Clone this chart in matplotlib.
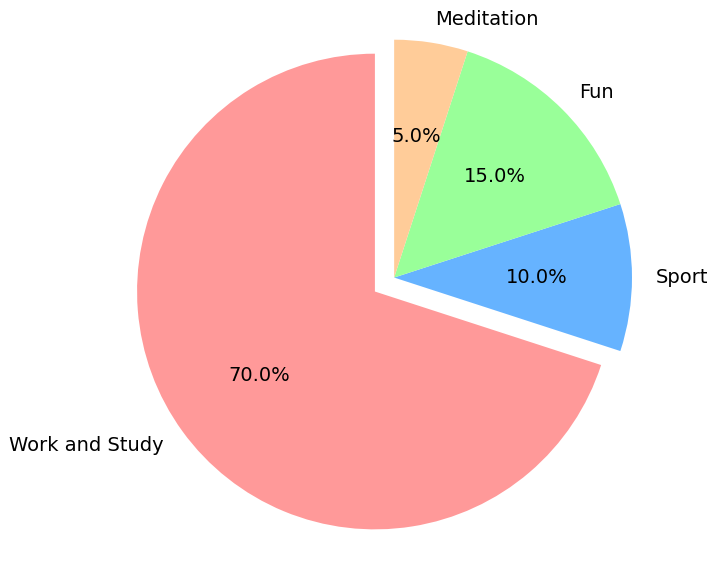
import matplotlib.pyplot as plt

labels = ['Work and Study', 'Sport', 'Fun', 'Meditation']
sizes = [70, 10, 15, 5]
colors = ['#ff9999', '#66b3ff', '#99ff99', '#ffcc99']
explode = (0.1, 0, 0, 0)

fig, ax = plt.subplots(figsize=(7.17, 5.64), dpi=100)
ax.pie(sizes, explode=explode, labels=labels, colors=colors,
       autopct='%1.1f%%', startangle=90, textprops={'fontsize': 14})
ax.axis('equal')
ax.set_position([0.0563, 0.018, 0.96, 0.955])
plt.savefig('out.png')
